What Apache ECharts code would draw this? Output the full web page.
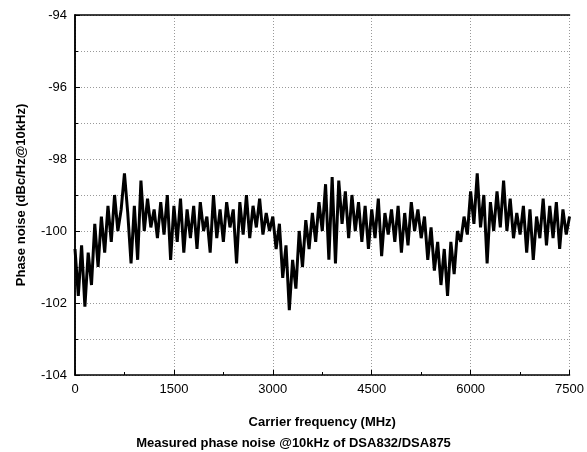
<!DOCTYPE html><html><head><meta charset="utf-8">
<script src="https://cdn.jsdelivr.net/npm/echarts@6/dist/echarts.min.js"></script>
<style>html,body{margin:0;padding:0;background:#fff}#c{width:587px;height:452px}</style></head>
<body><div id="c"></div><script>
const freqStep = 50;
const phaseNoise = [-100.5,-101.8,-100.4,-102.1,-100.6,-101.5,-99.8,-101.0,-99.6,-100.6,-99.3,-100.3,-99.0,-100.0,-99.4,-98.4,-99.5,-100.9,-99.3,-100.8,-98.6,-100.0,-99.1,-99.9,-99.4,-100.2,-99.2,-100.1,-99.0,-100.8,-99.3,-100.3,-99.1,-100.6,-99.4,-100.2,-99.3,-100.5,-99.2,-100.0,-99.6,-100.6,-99.0,-100.2,-99.4,-100.3,-99.2,-99.9,-99.4,-100.9,-99.2,-100.1,-99.0,-100.2,-99.3,-99.9,-99.1,-100.1,-99.5,-100.0,-99.6,-100.5,-99.8,-101.3,-100.4,-102.2,-100.8,-101.6,-100.0,-101.0,-99.7,-100.5,-99.5,-100.3,-99.2,-100.0,-98.7,-100.8,-98.5,-100.9,-98.6,-99.8,-98.9,-100.2,-99.0,-100.0,-99.2,-100.3,-99.3,-100.5,-99.4,-100.2,-99.1,-100.7,-99.5,-100.1,-99.4,-100.3,-99.3,-100.6,-99.5,-100.4,-99.2,-100.0,-99.4,-100.2,-99.6,-100.8,-99.9,-101.1,-100.3,-101.5,-100.5,-101.8,-100.3,-101.2,-100.0,-100.3,-99.6,-100.1,-98.9,-99.8,-98.4,-99.9,-99.0,-100.9,-99.2,-100.0,-98.9,-99.9,-98.6,-100.0,-99.1,-100.2,-99.5,-100.1,-99.3,-100.6,-99.4,-100.8,-99.6,-100.2,-99.1,-100.4,-99.3,-100.2,-99.2,-100.5,-99.4,-100.1,-99.6];
const xTicks = [0,1500,3000,4500,6000,7500];
const yTicks = [-104,-102,-100,-98,-96,-94];
const data = phaseNoise.map((v,i)=>[i*freqStep,v]);
const F='Liberation Sans, Arial, sans-serif';
const dot={show:true,lineStyle:{type:[1,2],color:'#999',width:1}};
const chart=echarts.init(document.getElementById('c'));
chart.setOption({
animation:false,
grid:{left:75,right:17,top:15,bottom:77},
title:{text:'Measured phase noise @10kHz of DSA832/DSA875',left:'center',top:432,textStyle:{fontFamily:F,fontSize:13,fontWeight:'bold',color:'#000'}},
xAxis:[{type:'value',min:0,max:7500,interval:1500,name:'Carrier frequency (MHz)',nameLocation:'middle',nameGap:41,
 nameTextStyle:{fontFamily:F,fontSize:13,fontWeight:'bold',color:'#000'},
 axisLine:{lineStyle:{color:'#000',width:1.5}},axisTick:{inside:true,length:5,lineStyle:{color:'#000'}},
 minorTick:{show:true,splitNumber:2,length:3,lineStyle:{color:'#000'}},
 axisLabel:{fontFamily:F,fontSize:13,color:'#000',formatter:v=>String(v)},splitLine:dot},
 {type:'value',position:'top',min:0,max:7500,interval:1500,axisLine:{show:true,lineStyle:{color:'#000',width:1.5}},axisTick:{show:false},axisLabel:{show:false},splitLine:{show:false}}],
yAxis:[{type:'value',min:-104,max:-94,interval:2,name:'Phase noise (dBc/Hz@10kHz)',nameLocation:'middle',nameGap:47,
 nameTextStyle:{fontFamily:F,fontSize:13,fontWeight:'bold',color:'#000'},
 axisLine:{show:true,lineStyle:{color:'#000',width:1.5}},axisTick:{inside:true,length:5,lineStyle:{color:'#000'}},
 minorTick:{show:true,splitNumber:2,length:3,lineStyle:{color:'#000'}},
 axisLabel:{fontFamily:F,fontSize:13,color:'#000'},splitLine:dot,minorSplitLine:dot},
 {type:'value',position:'right',min:-104,max:-94,axisLine:{show:true,lineStyle:{color:'#000',width:1.5}},axisTick:{show:false},axisLabel:{show:false},splitLine:{show:false}}],
series:[{type:'line',data:data,showSymbol:false,lineStyle:{color:'#000',width:3}}]
});
</script></body></html>
